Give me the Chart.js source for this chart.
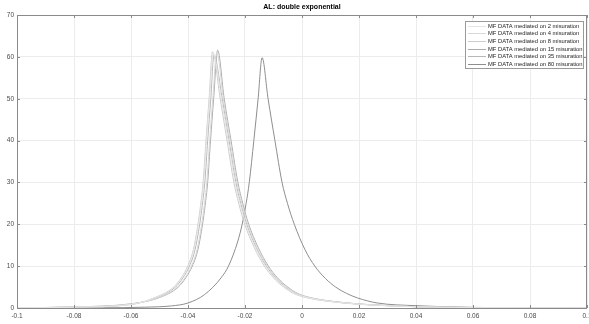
<!DOCTYPE html>
<html>
<head>
<meta charset="utf-8">
<script src="https://cdn.jsdelivr.net/npm/chart.js@4.4.1/dist/chart.umd.min.js"></script>
<style>
  html, body { margin: 0; padding: 0; background: #fff; }
  canvas { display: block; }
</style>
</head>
<body>
<canvas id="chart" width="589" height="324"></canvas>
<script>
'use strict';

var chartTitle = 'AL: double exponential';

var seriesLabels = [
    'MF DATA mediated on 2 misuration',
    'MF DATA mediated on 4 misuration',
    'MF DATA mediated on 8 misuration',
    'MF DATA mediated on 15 misuration',
    'MF DATA mediated on 35 misuration',
    'MF DATA mediated on 80 misuration'
];
var seriesColors = ['#e4e4e4', '#d8d8d8', '#cdcdcd', '#acacac', '#b8b8b8', '#8e8e8e'];

var xTicks = [-0.1, -0.08, -0.06, -0.04, -0.02, 0, 0.02, 0.04, 0.06, 0.08, 0.1];
var xTickLabels = ['-0.1', '-0.08', '-0.06', '-0.04', '-0.02', '0', '0.02', '0.04', '0.06', '0.08', '0.1'];
var yTicks = [0, 10, 20, 30, 40, 50, 60, 70];
var yTickLabels = ['0', '10', '20', '30', '40', '50', '60', '70'];

// values, one x/y pair of arrays per curve
var x2 = [-0.1, -0.08, -0.06, -0.0518, -0.0448, -0.0422, -0.0399, -0.0379, -0.0363, -0.0354, -0.0345, -0.0335, -0.0324, -0.0312, -0.0283, -0.0259, -0.0235, -0.0218, -0.0197, -0.0164, -0.0128, -0.0096, -0.006, -0.0026, 0.0024, 0.0084, 0.0184, 0.0284, 0.04, 0.06, 0.08, 0.1];
var y2 = [0.05, 0.2, 0.85, 2.4, 5, 7.2, 10, 14, 20, 24.5, 30, 40, 50, 60.8, 50, 40, 30, 25, 20, 14.5, 10, 7.2, 5, 3.5, 2.4, 1.7, 1.0, 0.6, 0.3, 0.1, 0.04, 0.02];

var x4 = [-0.1, -0.08, -0.06, -0.0507, -0.0437, -0.0411, -0.0388, -0.0368, -0.0352, -0.0343, -0.0334, -0.0324, -0.0313, -0.0299, -0.0276, -0.0252, -0.0228, -0.0211, -0.019, -0.0157, -0.0121, -0.0089, -0.0053, -0.0019, 0.0031, 0.0091, 0.0191, 0.0291, 0.0405, 0.06, 0.08, 0.1];
var y4 = [0.06, 0.25, 0.95, 2.4, 5, 7.2, 10, 14, 20, 24.5, 30, 40, 50, 61.0, 50, 40, 30, 25, 20, 14.5, 10, 7.2, 5, 3.5, 2.4, 1.7, 1.0, 0.6, 0.3, 0.12, 0.05, 0.02];

var x8 = [-0.1, -0.08, -0.06, -0.052, -0.045, -0.0424, -0.0401, -0.0381, -0.0365, -0.0356, -0.0347, -0.0337, -0.0326, -0.0314, -0.0287, -0.0263, -0.0239, -0.0222, -0.0201, -0.0168, -0.0132, -0.01, -0.0064, -0.003, 0.002, 0.008, 0.018, 0.028, 0.04, 0.06, 0.08, 0.1];
var y8 = [0.05, 0.2, 0.8, 2.4, 5, 7.2, 10, 14, 20, 24.5, 30, 40, 50, 61.2, 50, 40, 30, 25, 20, 14.5, 10, 7.2, 5, 3.5, 2.4, 1.7, 1.0, 0.6, 0.3, 0.1, 0.04, 0.02];

var x15 = [-0.1, -0.08, -0.06, -0.0504, -0.0434, -0.0408, -0.0385, -0.0365, -0.0349, -0.034, -0.0331, -0.0321, -0.031, -0.0296, -0.0273, -0.0249, -0.0225, -0.0208, -0.0187, -0.0154, -0.0118, -0.0086, -0.005, -0.0016, 0.0034, 0.0094, 0.0194, 0.0294, 0.041, 0.06, 0.08, 0.1];
var y15 = [0.06, 0.25, 1.0, 2.4, 5, 7.2, 10, 14, 20, 24.5, 30, 40, 50, 61.6, 50, 40, 30, 25, 20, 14.5, 10, 7.2, 5, 3.5, 2.4, 1.7, 1.0, 0.6, 0.3, 0.12, 0.05, 0.02];

var x35 = [-0.1, -0.08, -0.06, -0.0514, -0.0444, -0.0418, -0.0395, -0.0375, -0.0359, -0.035, -0.0341, -0.0331, -0.032, -0.0309, -0.028, -0.0256, -0.0232, -0.0215, -0.0194, -0.0161, -0.0125, -0.0093, -0.0057, -0.0023, 0.0027, 0.0087, 0.0187, 0.0287, 0.0405, 0.06, 0.08, 0.1];
var y35 = [0.05, 0.22, 0.9, 2.4, 5, 7.2, 10, 14, 20, 24.5, 30, 40, 50, 60.4, 50, 40, 30, 25, 20, 14.5, 10, 7.2, 5, 3.5, 2.4, 1.7, 1.0, 0.6, 0.3, 0.1, 0.04, 0.02];

var x80 = [-0.1, -0.07, -0.055, -0.0458, -0.04, -0.0342, -0.0284, -0.0258, -0.0225, -0.021, -0.0196, -0.0185, -0.0169, -0.0154, -0.014, -0.0119, -0.0095, -0.007, -0.0051, -0.0027, 0.001, 0.0045, 0.0083, 0.0118, 0.0156, 0.0195, 0.0264, 0.04, 0.06, 0.08, 0.1];
var y80 = [0.01, 0.05, 0.2, 0.5, 1.2, 3.2, 7.2, 10, 16, 20, 25, 30, 40, 50, 59.8, 50, 40, 30, 25, 20, 14, 10, 7, 5, 3.5, 2.4, 1.2, 0.55, 0.15, 0.04, 0.01];

var seriesX = [x2, x4, x8, x15, x35, x80];
var seriesY = [y2, y4, y8, y15, y35, y80];

var FONT = 'Liberation Sans, Arial, Helvetica, sans-serif';
var AXIS_COLOR = '#8a8a8a';

function toPoints(xs, ys) {
    return xs.map(function (x, i) { return { x: x, y: ys[i] }; });
}

var datasets = seriesLabels.map(function (label, i) {
    return {
        label: label,
        data: toPoints(seriesX[i], seriesY[i]),
        borderColor: seriesColors[i],
        backgroundColor: seriesColors[i],
        borderWidth: 1,
        pointRadius: 0,
        cubicInterpolationMode: 'monotone',
        fill: false
    };
});

// axes box, inward tick marks, title and the legend inside the plot
var matlabLook = {
    id: 'matlabLook',
    afterDraw: function (chart) {
        var ctx = chart.ctx;
        var area = chart.chartArea;
        var xs = chart.scales.x, ys = chart.scales.y;

        ctx.save();
        ctx.strokeStyle = AXIS_COLOR;
        ctx.lineWidth = 1;
        ctx.strokeRect(Math.round(area.left) + 0.5, Math.round(area.top) + 0.5,
            Math.round(area.right - area.left) - 1, Math.round(area.bottom - area.top));

        ctx.beginPath();
        xTicks.forEach(function (v) {
            var px = Math.round(xs.getPixelForValue(v)) + 0.5;
            ctx.moveTo(px, area.bottom); ctx.lineTo(px, area.bottom - 3);
            ctx.moveTo(px, area.top); ctx.lineTo(px, area.top + 3);
        });
        yTicks.forEach(function (v) {
            var py = Math.round(ys.getPixelForValue(v)) + 0.5;
            ctx.moveTo(area.left, py); ctx.lineTo(area.left + 3, py);
            ctx.moveTo(area.right, py); ctx.lineTo(area.right - 3, py);
        });
        ctx.stroke();

        // title
        ctx.fillStyle = '#000';
        ctx.font = 'bold 7px ' + FONT;
        ctx.textAlign = 'center';
        ctx.textBaseline = 'middle';
        ctx.fillText(chartTitle, (area.left + area.right) / 2, 7.5);

        // legend
        var boxL = 465.5, boxT = 21.5, boxW = 118, boxH = 47;
        ctx.fillStyle = '#fff';
        ctx.fillRect(boxL, boxT, boxW, boxH);
        ctx.strokeStyle = '#9a9a9a';
        ctx.strokeRect(boxL, boxT, boxW, boxH);
        ctx.font = '5.8px ' + FONT;
        ctx.textAlign = 'left';
        chart.data.datasets.forEach(function (ds, i) {
            var rowY = Math.round(25.5 + i * 7.7) + 0.5;
            ctx.strokeStyle = ds.borderColor;
            ctx.beginPath();
            ctx.moveTo(468, rowY); ctx.lineTo(486, rowY);
            ctx.stroke();
            ctx.fillStyle = '#262626';
            ctx.fillText(ds.label, 488, rowY);
        });
        ctx.restore();
    }
};

var ctx = document.getElementById('chart').getContext('2d');
var myChart = new Chart(ctx, {
    type: 'line',
    data: { datasets: datasets },
    options: {
        responsive: false,
        animation: false,
        layout: { autoPadding: false, padding: { top: 15, right: 2, left: 0, bottom: 0 } },
        plugins: {
            legend: { display: false },
            title: { display: false },
            tooltip: { enabled: false }
        },
        scales: {
            x: {
                type: 'linear',
                min: -0.1,
                max: 0.1,
                afterBuildTicks: function (scale) {
                    scale.ticks = xTicks.map(function (v) { return { value: v }; });
                },
                afterFit: function (scale) {
                    scale.height = 16;
                    scale.paddingLeft = 0;
                    scale.paddingRight = 0;
                },
                ticks: {
                    autoSkip: false,
                    maxRotation: 0,
                    padding: 4,
                    color: '#4a4a4a',
                    font: { family: FONT, size: 6.5 },
                    callback: function (value, index) { return xTickLabels[index]; }
                },
                grid: { color: '#ececec', drawTicks: false },
                border: { display: false }
            },
            y: {
                type: 'linear',
                min: 0,
                max: 70,
                afterBuildTicks: function (scale) {
                    scale.ticks = yTicks.map(function (v) { return { value: v }; });
                },
                afterFit: function (scale) {
                    scale.width = 17;
                    scale.paddingTop = 0;
                    scale.paddingBottom = 0;
                },
                ticks: {
                    autoSkip: false,
                    padding: 3,
                    color: '#4a4a4a',
                    font: { family: FONT, size: 6.5 },
                    callback: function (value, index) { return yTickLabels[index]; }
                },
                grid: { color: '#ececec', drawTicks: false },
                border: { display: false }
            }
        }
    },
    plugins: [matlabLook]
});
</script>
</body>
</html>
